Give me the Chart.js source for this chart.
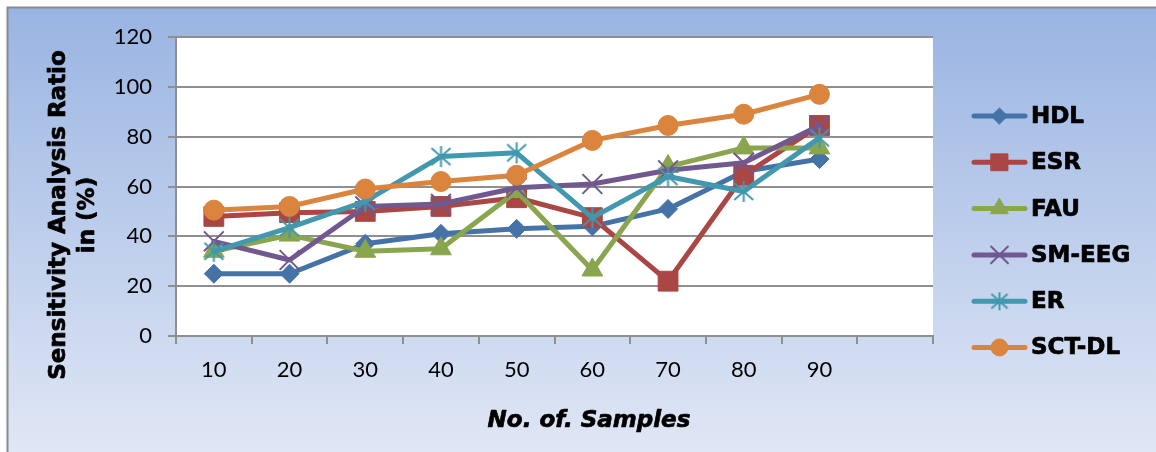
<!DOCTYPE html>
<html>
<head>
<meta charset="utf-8">
<script src="https://cdn.jsdelivr.net/npm/chart.js@4.4.1/dist/chart.umd.min.js"></script>
<style>
  html, body { margin: 0; padding: 0; background: #fff; overflow: hidden; }
  canvas { display: block; }
</style>
</head>
<body>
<canvas id="c" width="1156" height="452"></canvas>
<script>
// Sample counts on the category axis (last slot left empty)
const categories = ['10', '20', '30', '40', '50', '60', '70', '80', '90', ''];

// Sensitivity analysis ratio (%) per method
const hdl   = [25, 25, 37, 41, 43, 44, 51, 66, 71];
const esr   = [48, 49.5, 50, 52, 55.5, 47.5, 22, 64.5, 84.5];
const fau   = [34, 40.5, 34, 35, 58, 26.5, 68, 75.5, 75.5];
const smEeg = [38, 30.5, 52, 53, 59.5, 61, 66.5, 69.5, 84.5];
const er    = [34, 43.5, 54, 72, 73.5, 47.5, 64, 58, 79.5];
const sctDl = [50.5, 52, 59, 62, 64.5, 78.5, 84.5, 89, 97];

const seriesNames = ['HDL', 'ESR', 'FAU', 'SM-EEG', 'ER', 'SCT-DL'];
const yTicks = [0, 20, 40, 60, 80, 100, 120];
const xTitle = 'No. of. Samples';
const yTitle = ['Sensitivity Analysis Ratio', 'in (%)'];

const W = 1156, H = 452;
const GRID = '#8f8f8f';
const colors = ['#4573A7', '#AA4643', '#89A54E', '#71588F', '#4198AF', '#DB843D'];

// Asterisk marker: vertical stroke plus an X
function makeStar(color, scale) {
  const ry = 10.5 * scale, dx = 9.5 * scale, dy = 8.5 * scale;
  const s = Math.ceil(2 * ry + 4);
  const cv = document.createElement('canvas');
  cv.width = s; cv.height = s;
  const g = cv.getContext('2d');
  const c = s / 2;
  g.strokeStyle = color;
  g.lineWidth = 2;
  g.beginPath();
  g.moveTo(c, c - ry); g.lineTo(c, c + ry);
  g.moveTo(c - dx, c - dy); g.lineTo(c + dx, c + dy);
  g.moveTo(c - dx, c + dy); g.lineTo(c + dx, c - dy);
  g.stroke();
  return cv;
}

const markers = [
  { style: 'rectRot', radius: 9.5, bw: 1 },
  { style: 'rect', radius: 14, bw: 1 },
  { style: 'triangle', radius: 12, bw: 1 },
  { style: 'crossRot', radius: 14, bw: 2 },
  { style: makeStar(colors[4], 1), legendStyle: makeStar(colors[4], 0.85), radius: 10, bw: 2 },
  { style: 'circle', radius: 10, bw: 1 }
];

const values = [hdl, esr, fau, smEeg, er, sctDl];

const datasets = values.map((v, i) => ({
  label: seriesNames[i],
  data: v,
  borderColor: colors[i],
  backgroundColor: colors[i],
  borderWidth: 5,
  borderJoinStyle: 'round',
  borderCapStyle: 'round',
  tension: 0,
  pointStyle: markers[i].style,
  pointRadius: markers[i].radius,
  pointHoverRadius: markers[i].radius,
  pointBackgroundColor: colors[i],
  pointBorderColor: colors[i],
  pointBorderWidth: markers[i].bw,
  order: values.length - 1 - i   // later series drawn on top
}));

// Page background, chart frame and white plot area
const framePlugin = {
  id: 'frame',
  beforeDraw(chart) {
    const { ctx, chartArea: a } = chart;
    ctx.save();
    ctx.fillStyle = '#ffffff';
    ctx.fillRect(0, 0, W, H);
    const g = ctx.createLinearGradient(0, 8, 0, H);
    g.addColorStop(0, '#99B4E2');
    g.addColorStop(1, '#E0E7F5');
    ctx.fillStyle = g;
    ctx.fillRect(7, 7, W - 7, H - 7);
    ctx.strokeStyle = '#8a8a8a';
    ctx.lineWidth = 2;
    ctx.beginPath();
    ctx.moveTo(7.5, H);
    ctx.lineTo(7.5, 7.5);
    ctx.lineTo(W, 7.5);
    ctx.stroke();
    ctx.fillStyle = '#ffffff';
    ctx.fillRect(a.left, a.top, a.right - a.left, a.bottom - a.top);
    ctx.restore();
  }
};

// Heavy text: fill plus a thin outline of the same colour
function heavyText(ctx, text, x, y) {
  ctx.fillText(text, x, y);
  ctx.strokeText(text, x, y);
}

// Axis titles and the legend on the right
const labelPlugin = {
  id: 'labels',
  afterDraw(chart) {
    const ctx = chart.ctx;
    ctx.save();
    ctx.fillStyle = '#000';
    ctx.strokeStyle = '#000';
    ctx.lineWidth = 0.7;
    ctx.lineJoin = 'round';
    ctx.textBaseline = 'middle';

    // x-axis title
    ctx.font = 'italic bold 23px "DejaVu Sans"';
    ctx.textAlign = 'center';
    heavyText(ctx, xTitle, 589, 421);

    // y-axis title, two rotated lines
    ctx.font = 'bold 23px "DejaVu Sans"';
    [[59, yTitle[0]], [88, yTitle[1]]].forEach(([x, t]) => {
      ctx.save();
      ctx.translate(x, 215);
      ctx.rotate(-Math.PI / 2);
      heavyText(ctx, t, 0, 0);
      ctx.restore();
    });

    // legend
    const top = 116, gap = 46.3;
    chart.data.datasets.forEach((ds, i) => {
      const y = top + i * gap;
      ctx.save();
      ctx.strokeStyle = ds.borderColor;
      ctx.lineWidth = 5;
      ctx.lineCap = 'round';
      ctx.beginPath();
      ctx.moveTo(974, y);
      ctx.lineTo(1025, y);
      ctx.stroke();
      ctx.fillStyle = ds.pointBackgroundColor;
      ctx.strokeStyle = ds.pointBorderColor;
      ctx.lineWidth = ds.pointBorderWidth;
      const m = markers[i];
      Chart.helpers.drawPoint(ctx, {
        pointStyle: m.legendStyle || m.style,
        rotation: 0,
        radius: m.radius * 0.85,
        borderWidth: m.bw
      }, 999.5, y);
      ctx.restore();
      ctx.textAlign = 'left';
      ctx.font = 'bold 23px "DejaVu Sans"';
      heavyText(ctx, ds.label, 1031, y + 1);
    });
    ctx.restore();
  }
};

new Chart(document.getElementById('c'), {
  type: 'line',
  data: { labels: categories, datasets },
  options: {
    responsive: false,
    animation: false,
    events: [],
    layout: { padding: { left: 0, top: 37, right: W - 933, bottom: 0 } },
    plugins: { legend: { display: false }, tooltip: { enabled: false }, title: { display: false } },
    scales: {
      x: {
        type: 'category',
        offset: true,
        afterFit(scale) { scale.height = H - 336; },
        grid: {
          offset: true,
          drawOnChartArea: false,
          drawTicks: true,
          tickLength: 8,
          color: GRID,
          lineWidth: 2
        },
        border: { display: true, color: GRID, width: 2 },
        ticks: {
          color: '#000',
          font: { family: 'Lato', size: 22 },
          padding: 13,
          maxRotation: 0,
          autoSkip: false
        }
      },
      y: {
        min: yTicks[0],
        max: yTicks[yTicks.length - 1],
        afterFit(scale) { scale.width = 176; },
        afterBuildTicks(scale) { scale.ticks = yTicks.map(v => ({ value: v })); },
        grid: {
          drawTicks: true,
          tickLength: 8,
          color: GRID,
          lineWidth: 2
        },
        border: { display: true, color: GRID, width: 2 },
        ticks: {
          color: '#000',
          font: { family: 'Lato', size: 22 },
          padding: 16
        }
      }
    }
  },
  plugins: [framePlugin, labelPlugin]
});
</script>
</body>
</html>
